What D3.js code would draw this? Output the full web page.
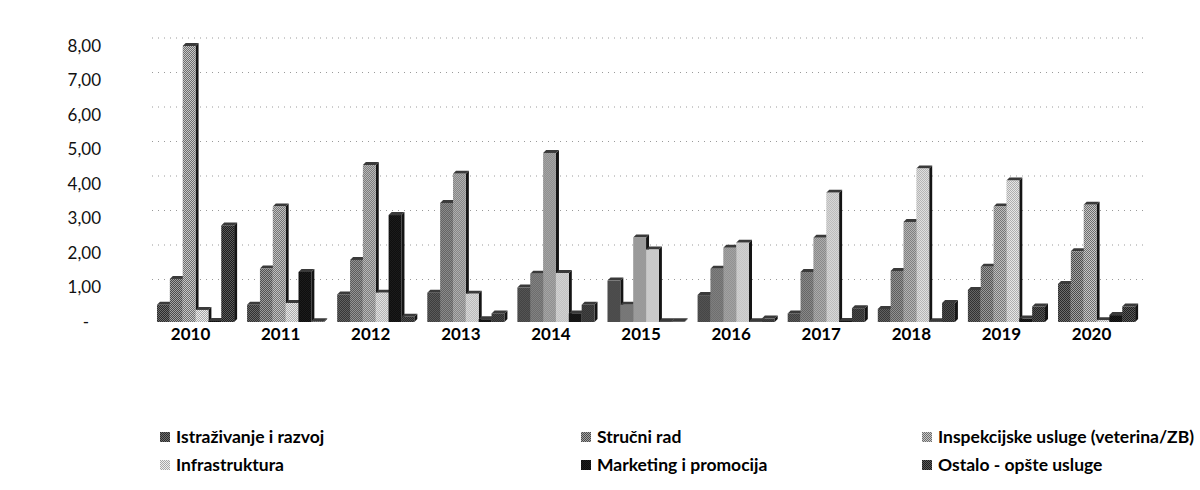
<!DOCTYPE html>
<html>
<head>
<meta charset="utf-8">
<script src="https://cdn.jsdelivr.net/npm/d3@7"></script>
<style>
  body { margin: 0; background: #fff; }
  svg { font-family: Lato, "Open Sans", sans-serif; }
</style>
</head>
<body>
<div id="chart"></div>
<script>
const w = 1200;
const h = 490;

const years = ['2010', '2011', '2012', '2013', '2014', '2015', '2016', '2017', '2018', '2019', '2020'];
const seriesNames = ['Istraživanje i razvoj', 'Stručni rad', 'Inspekcijske usluge (veterina/ZB)',
    'Infrastruktura', 'Marketing i promocija', 'Ostalo - opšte usluge'];
const istrazivanje = [0.50, 0.50, 0.80, 0.85, 1.00, 1.20, 0.78, 0.25, 0.38, 0.93, 1.10];
const strucniRad = [1.25, 1.55, 1.80, 3.45, 1.40, 0.50, 1.54, 1.45, 1.48, 1.60, 2.05];
const inspekcijske = [8.00, 3.35, 4.55, 4.30, 4.90, 2.45, 2.15, 2.44, 2.90, 3.35, 3.40];
const infrastruktura = [0.35, 0.55, 0.85, 0.82, 1.42, 2.10, 2.30, 3.75, 4.45, 4.10, 0.05];
const marketing = [0.03, 1.45, 3.10, 0.08, 0.25, 0.02, 0.02, 0.03, 0.02, 0.10, 0.20];
const ostalo = [2.80, 0.02, 0.15, 0.25, 0.50, 0.02, 0.10, 0.40, 0.55, 0.45, 0.45];
const yTicks = [0, 1, 2, 3, 4, 5, 6, 7, 8];

const allSeries = [istrazivanje, strucniRad, inspekcijske, infrastruktura, marketing, ostalo];

const svg = d3.select('#chart')
    .append('svg')
    .attr('width', w)
    .attr('height', h);

// halftone-ish checker fills, like the scanned original
const defs = svg.append('defs');
const fills = [
    { a: '#2a2a2a', b: '#6e6e6e' },
    { a: '#4a4a4a', b: '#a4a4a4' },
    { a: '#6c6c6c', b: '#c8c8c8' },
    { a: '#a6a6a6', b: '#eeeeee' },
    { a: '#0c0c0c', b: '#1e1e1e' },
    { a: '#1c1c1c', b: '#5a5a5a' }
];
fills.forEach((f, i) => {
    const p = defs.append('pattern')
        .attr('id', 'fill' + i)
        .attr('patternUnits', 'userSpaceOnUse')
        .attr('width', 2)
        .attr('height', 2);
    p.append('rect').attr('width', 2).attr('height', 2).attr('fill', f.b);
    p.append('rect').attr('width', 1).attr('height', 1).attr('fill', f.a);
    p.append('rect').attr('x', 1).attr('y', 1).attr('width', 1).attr('height', 1).attr('fill', f.a);
});

const yScale = d3.scaleLinear()
    .domain([0, 8])
    .range([322, 46]);

const xScale = d3.scaleBand()
    .domain(years)
    .range([150.5, 150.5 + 11 * 90.1])
    .paddingInner(0.144)
    .paddingOuter(0.072);

const xInner = d3.scaleBand()
    .domain(d3.range(seriesNames.length))
    .range([0, xScale.bandwidth()]);

// gridlines on the back wall
const back = 8;
svg.append('g')
    .selectAll('line')
    .data(yTicks.filter(d => d > 0))
    .enter()
    .append('line')
    .attr('x1', 152)
    .attr('x2', 1147)
    .attr('y1', d => yScale(d) - back)
    .attr('y2', d => yScale(d) - back)
    .attr('stroke', '#9a9a9a')
    .attr('stroke-width', 1)
    .attr('stroke-dasharray', '1,5');

// y labels
const fmt = d => d === 0 ? '-' : d3.format('.2f')(d).replace('.', ',');
const yAxis = d3.axisLeft(yScale).tickValues(yTicks).tickFormat(fmt).tickSize(0).tickPadding(0);
svg.append('g')
    .attr('transform', 'translate(101,0)')
    .call(yAxis)
    .call(g => g.select('.domain').remove())
    .selectAll('text')
    .attr('font-family', 'Lato, sans-serif')
    .attr('font-size', 17)
    .attr('fill', '#111')
    .attr('x', (d) => d === 0 ? -12 : 0);

// x labels
const xAxis = d3.axisBottom(xScale).tickSize(0).tickPadding(0);
svg.append('g')
    .attr('transform', 'translate(-5,328)')
    .call(xAxis)
    .call(g => g.select('.domain').remove())
    .selectAll('text')
    .attr('font-family', 'Lato, sans-serif')
    .attr('font-size', 17)
    .attr('font-weight', 'bold')
    .attr('fill', '#000');

// 3D-ish columns
const dx = 3, dy = 3;
const base = yScale(0);
years.forEach((yr, gi) => {
    const g = svg.append('g').attr('transform', 'translate(' + xScale(yr) + ',0)');
    allSeries.forEach((vals, si) => {
        const v = vals[gi];
        const x0 = xInner(si);
        const bw = xInner.bandwidth();
        const yTop = yScale(v);
        // side face
        g.append('path')
            .attr('d', `M${x0 + bw},${yTop} L${x0 + bw + dx},${yTop - dy} L${x0 + bw + dx},${base - dy} L${x0 + bw},${base} Z`)
            .attr('fill', '#141414');
        // top face
        g.append('path')
            .attr('d', `M${x0},${yTop} L${x0 + dx},${yTop - dy} L${x0 + bw + dx},${yTop - dy} L${x0 + bw},${yTop} Z`)
            .attr('fill', '#3a3a3a');
        // front face
        g.append('rect')
            .attr('x', x0)
            .attr('y', yTop)
            .attr('width', bw)
            .attr('height', Math.max(base - yTop, 0))
            .attr('fill', 'url(#fill' + si + ')');
    });
});

// legend
const legendCols = [160, 581, 922];
const legendRows = [437, 465];
const legend = svg.append('g');
seriesNames.forEach((name, i) => {
    const lx = legendCols[i % 3];
    const ly = legendRows[Math.floor(i / 3)];
    legend.append('rect')
        .attr('x', lx)
        .attr('y', ly - 5)
        .attr('width', 10)
        .attr('height', 10)
        .attr('fill', 'url(#fill' + i + ')');
    legend.append('text')
        .attr('x', lx + 16)
        .attr('y', ly)
        .attr('dy', '0.35em')
        .attr('font-size', 17.5)
        .attr('font-weight', 'bold')
        .attr('fill', '#000')
        .text(name);
});
</script>
</body>
</html>
